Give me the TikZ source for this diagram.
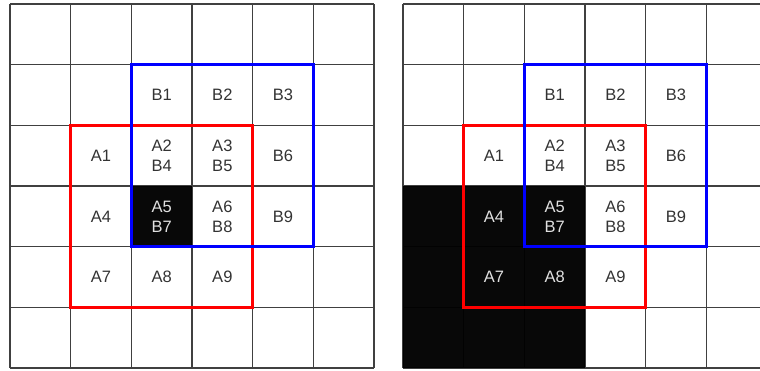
\documentclass[tikz,border=0pt]{standalone}
\usepackage{fontspec}
\setmainfont{Liberation Sans}
\begin{document}
\begin{tikzpicture}[x=1pt,y=-1pt,
  gridline/.style={draw=black!75, line width=1.3pt},
  blackcell/.style={fill=black, fill opacity=0.97},
  lab/.style={font=\fontsize{16.5}{20}\selectfont, text=black!80, align=center, inner sep=0pt},
  labinv/.style={lab, text=black!12},
  redbox/.style={draw=red, line width=3pt},
  bluebox/.style={draw=blue, line width=3pt}]
\useasboundingbox (0,0) rectangle (760,370);
\clip (0,0) rectangle (760,370);
\def\c{60.667}
% grids
\foreach \ox in {10,403} {
  \foreach \i in {0,...,6} {
    \draw[gridline] (\ox+\i*\c, 4) -- (\ox+\i*\c, 4+6*\c);
    \draw[gridline] (\ox, 4+\i*\c) -- (\ox+6*\c, 4+\i*\c);
  }
}
% black cells
\path[blackcell] (10+2*\c, 4+3*\c) rectangle ++(\c,\c);
\path[blackcell] (403, 4+3*\c) rectangle (403+3*\c, 4+6*\c);
% labels
\foreach \p/\ox in {L/10,R/403} {
  \foreach \n/\col/\row/\t in {b1/2/1/B1, b2/3/1/B2, b3/4/1/B3,
      a1/1/2/A1, a2/2/2/{A2\\B4}, a3/3/2/{A3\\B5}, b6/4/2/B6,
      a6/3/3/{A6\\B8}, b9/4/3/B9, a9/3/4/A9} {
    \node[lab] (\p\n) at (\ox+\col*\c+0.5*\c, 4+\row*\c+0.5*\c) {\t};
  }
}
\node[lab] (La4) at (10+1.5*\c, 4+3.5*\c) {A4};
\node[labinv] (La5) at (10+2.5*\c, 4+3.5*\c) {A5\\B7};
\node[lab] (La7) at (10+1.5*\c, 4+4.5*\c) {A7};
\node[lab] (La8) at (10+2.5*\c, 4+4.5*\c) {A8};
\node[labinv] (Ra4) at (403+1.5*\c, 4+3.5*\c) {A4};
\node[labinv] (Ra5) at (403+2.5*\c, 4+3.5*\c) {A5\\B7};
\node[labinv] (Ra7) at (403+1.5*\c, 4+4.5*\c) {A7};
\node[labinv] (Ra8) at (403+2.5*\c, 4+4.5*\c) {A8};
% windows
\foreach \ox in {10,403} {
  \draw[redbox] (\ox+\c, 4+2*\c) rectangle (\ox+4*\c, 4+5*\c);
  \draw[bluebox] (\ox+2*\c, 4+\c) rectangle (\ox+5*\c, 4+4*\c);
}
\end{tikzpicture}
\end{document}
